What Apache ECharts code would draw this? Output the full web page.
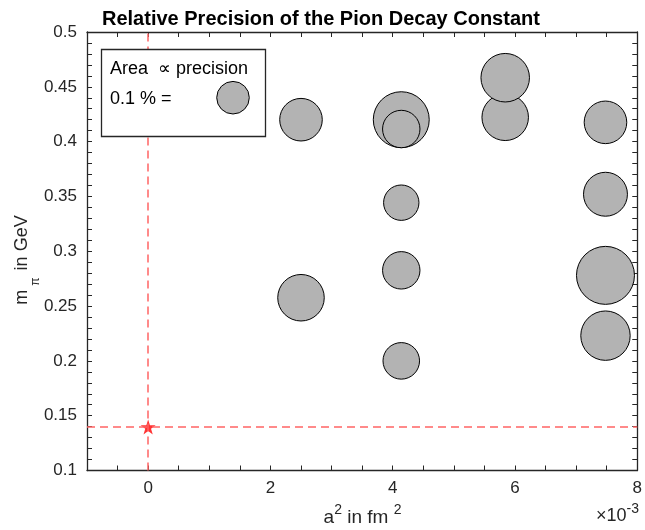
<!DOCTYPE html>
<html>
<head>
<meta charset="utf-8">
<script src="https://cdn.jsdelivr.net/npm/echarts@6/dist/echarts.min.js"></script>
<style>
  html,body{margin:0;padding:0;background:#fff;}
  #chart{width:645px;height:530px;}
</style>
</head>
<body>
<div id="chart"></div>
<script>
// 刻度标签
var xTickLabels=[0,2,4,6,8];
var yTickLabels=[0.1,0.15,0.2,0.25,0.3,0.35,0.4,0.45,0.5];
// 格点数据: a^2 (x10^-3 fm^2), m_pi (GeV), 相对精度 (%)
var aSq=      [2.5,  2.5,   4.14,  4.14,   4.14,   4.14,   4.14,  5.84,   5.84,   7.48,   7.48,  7.48,  7.48];
var mPi=      [0.42, 0.2576,0.42,  0.4115, 0.3443, 0.2826, 0.200, 0.4222, 0.4583, 0.4176, 0.352, 0.278, 0.223];
var precision=[0.171,0.204, 0.295, 0.132,  0.118,  0.132,  0.126, 0.204,  0.222,  0.171,  0.182, 0.317, 0.230];
// 物理点
var physA=[0];
var physM=[0.1396];
// 图例
var legendPrecision=0.1;

var font='"Liberation Sans", Arial, Helvetica, sans-serif';
var axisColor='#262626';
// 面积正比于精度
var bubbleSize=function(p){
  return 103*Math.sqrt(p);
};
var starPath='path://M50,0 L61.8,35.1 L98.9,35.1 L68.8,56.7 L80.2,91.9 L50,70 L19.8,91.9 L31.2,56.7 L1.1,35.1 L38.2,35.1 Z';

var bubbles=aSq.map(function(a,i){
  return [a,mPi[i],precision[i]];
});
var phys=physA.map(function(a,i){
  return [a,physM[i]];
});

var axisCommon={
  axisLine:{show:true,onZero:false,lineStyle:{color:axisColor,width:1.3}},
  axisTick:{show:true,inside:true,length:5,lineStyle:{color:axisColor,width:1}},
  splitLine:{show:false}
};
var xBase=function(pos,labels){
  return Object.assign({
    type:'value',position:pos,min:-1,max:8,interval:0.5,
    axisLabel:{
      show:labels,margin:9,color:axisColor,fontSize:17,fontFamily:font,
      formatter:function(v){
        return xTickLabels.indexOf(v)>=0?String(v):'';
      }
    }
  },axisCommon);
};
var yBase=function(pos,labels){
  return Object.assign({
    type:'value',position:pos,min:0.1,max:0.5,interval:0.01,
    axisLabel:{
      show:labels,margin:10,color:axisColor,fontSize:17,fontFamily:font,
      formatter:function(v){
        var r=Math.round(v*100)/100;
        return yTickLabels.indexOf(r)>=0?String(r):'';
      }
    }
  },axisCommon);
};

var chart=echarts.init(document.getElementById('chart'));
chart.setOption({
  animation:false,
  backgroundColor:'#fff',
  title:{
    text:'Relative Precision of the Pion Decay Constant',
    left:97,top:4,
    textStyle:{fontSize:20,fontWeight:'bold',color:'#000',fontFamily:font}
  },
  grid:{left:87,right:4,top:32,bottom:59.5,containLabel:false},
  xAxis:[xBase('bottom',true),xBase('top',false)],
  yAxis:[yBase('left',true),yBase('right',false)],
  series:[
    {
      type:'scatter',
      data:bubbles,
      symbol:'circle',
      symbolSize:function(d){return bubbleSize(d[2]);},
      itemStyle:{color:'#b3b3b3',borderColor:'#000',borderWidth:1,opacity:1},
      z:3
    },
    {
      type:'scatter',
      data:phys,
      symbol:starPath,
      symbolSize:15,
      itemStyle:{color:'#ff0000'},
      z:4,
      markLine:{
        silent:true,
        symbol:'none',
        label:{show:false},
        lineStyle:{color:'#ff6464',width:1.5,type:[8,5]},
        data:[{xAxis:physA[0]},{yAxis:physM[0]}]
      }
    }
  ],
  graphic:[
    {
      type:'rect',z:100,
      shape:{x:101.5,y:49.5,width:164,height:87},
      style:{fill:'#fff',stroke:axisColor,lineWidth:1.3}
    },
    {
      type:'text',z:101,x:110,y:69,
      style:{text:'Area  \u221d precision',font:'18px '+font,fill:'#000',verticalAlign:'middle'}
    },
    {
      type:'text',z:101,x:110,y:99,
      style:{text:'0.1 % =',font:'18px '+font,fill:'#000',verticalAlign:'middle'}
    },
    {
      type:'circle',z:101,
      shape:{cx:233,cy:97.7,r:bubbleSize(legendPrecision)/2},
      style:{fill:'#b3b3b3',stroke:'#000',lineWidth:1}
    },
    {
      type:'text',z:101,x:362.5,y:518,
      style:{
        text:'a{sup|2} in fm {sup|2}',
        font:'19px '+font,fill:axisColor,align:'center',verticalAlign:'middle',
        lineHeight:30,
        rich:{sup:{fontSize:14,fontFamily:font,lineHeight:12,verticalAlign:'top',fill:axisColor}}
      }
    },
    {
      type:'text',z:101,x:639,y:516,
      style:{
        text:'\u00d710{sup|-3}',
        font:'18px '+font,fill:axisColor,align:'right',verticalAlign:'middle',
        lineHeight:28,
        rich:{sup:{fontSize:14,fontFamily:font,lineHeight:12,verticalAlign:'top',fill:axisColor}}
      }
    },
    {
      type:'text',z:101,x:22,y:260,rotation:Math.PI/2,
      style:{
        text:'m{sub|\u03c0} in GeV',
        font:'18px '+font,fill:axisColor,align:'center',verticalAlign:'middle',
        lineHeight:40,
        rich:{
          main:{},
          sub:{fontSize:12,fontFamily:font,lineHeight:14,verticalAlign:'bottom',padding:[0,2,0,4],fill:axisColor}
        }
      }
    }
  ]
});
</script>
</body>
</html>
